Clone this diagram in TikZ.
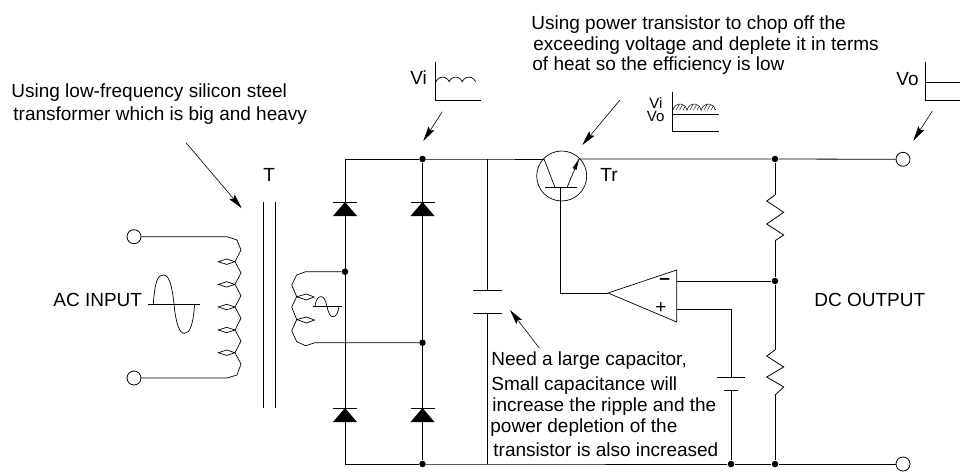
\documentclass[tikz,border=0pt]{standalone}
\usepackage{fontspec}
\setmainfont{Liberation Sans}
\usetikzlibrary{arrows.meta}

\begin{document}
\begin{tikzpicture}
		[x=1pt,y=-1pt,line width=0.8pt,
		dot/.style={circle,fill=black,inner sep=0pt,minimum size=6.5pt},
		port/.style={circle,draw=black,fill=white,inner sep=0pt,minimum size=14pt},
		label/.style={inner sep=0pt,anchor=base west,font=\fontsize{19}{21}\selectfont},
		small/.style={inner sep=0pt,anchor=base west,font=\fontsize{15}{16}\selectfont},
		thin wire/.style={line width=0.7pt},
		pointer/.style={-{Stealth[length=15pt,width=7pt,inset=2.5pt]},line width=0.6pt}]
		\useasboundingbox (0,0) rectangle (960,471);

		% ports and junctions
		\node [port] (in1) at (134,236.7) {};
		\node [port] (in2) at (134,378) {};
		\node [port] (out1) at (903,159.3) {};
		\node [port] (out2) at (903,464) {};
		\node [dot] (j1) at (422.5,159) {};
		\node [dot] (j2) at (775,159) {};
		\node [dot] (j3) at (345,271.7) {};
		\node [dot] (j4) at (422.5,342.7) {};
		\node [dot] (j5) at (775,281) {};
		\node [dot] (j6) at (422.5,464) {};
		\node [dot] (j7) at (731,464) {};
		\node [dot] (j8) at (775,464) {};
		\coordinate (tl) at (345,159);
		\coordinate (bl) at (345,464);
		\coordinate (ctop) at (487,159);
		\coordinate (cbot) at (487,464);
		\coordinate (c1) at (487,290);
		\coordinate (c2) at (487,313);
		\coordinate (q1) at (544,159);
		\coordinate (q2) at (579,159);
		\coordinate (qb) at (560,187.5);
		\coordinate (amp) at (608,293);
		\coordinate (amin) at (676.7,281);
		\coordinate (apls) at (676.7,309.5);
		\coordinate (b1) at (731,377);
		\coordinate (b2) at (731,390);
		\coordinate (r1a) at (775,195);
		\coordinate (r1b) at (775,240.7);
		\coordinate (r2a) at (775,350);
		\coordinate (r2b) at (775,395);

		% rails
		\draw (tl) -- (j1) -- (ctop) -- (q1);
		\draw (q2) -- (j2) -- (out1);
		\draw (bl) -- (j6) -- (cbot) -- (j7) -- (j8) -- (out2);
		\draw (tl) -- (bl);
		\draw (j1) -- (j6);
		\draw (ctop) -- (c1);
		\draw (c2) -- (cbot);
		\draw (j2) -- (r1a);
		\draw (r1b) -- (j5) -- (r2a);
		\draw (r2b) -- (j8);
		\draw (qb) |- (amp);
		\draw (amin) -- (j5);
		\draw (apls) -| (b1);
		\draw (b2) -- (j7);

		% capacitors
		\draw (473,290) -- (501.7,290);
		\draw (473,313) -- (501.7,313);
		\draw (717,377) -- (745,377);
		\draw (724,390) -- (738,390);

		% diodes
		\foreach \x/\y in {345/202,422.5/202,345/408,422.5/408} {
			\fill (\x,\y) -- ++(12,14) -- ++(-24,0) -- cycle;
			\draw (\x-12,\y) -- (\x+12,\y);
		}

		% resistors
		\draw (r1a) -- (766.7,201) -- (783.7,212.3) -- (766.7,224) -- (783.7,235) -- (r1b);
		\draw (r2a) -- (766.7,356) -- (783.7,367) -- (766.7,377) -- (783.7,387) -- (r2b);

		% transformer
		\draw (263,202) -- (263,408);
		\draw (275,202) -- (275,408);
		\draw [thin wire] (in1) -- (227,236.7) -- (237,240) -- (241,250) -- (235,261.7)
			-- (226.7,259) -- (218.3,261.7) -- (226.7,264.4) -- (235,261.7)
			-- (241,273) -- (235,284.4)
			-- (226.7,281.7) -- (218.3,284.4) -- (226.7,287.1) -- (235,284.4)
			-- (241,295.7) -- (235,307)
			-- (226.7,304.3) -- (218.3,307) -- (226.7,309.7) -- (235,307)
			-- (241,318.3) -- (235,330)
			-- (226.7,327.3) -- (218.3,330) -- (226.7,332.7) -- (235,330)
			-- (241,341) -- (235,352.7)
			-- (226.7,350) -- (218.3,352.7) -- (226.7,355.4) -- (235,352.7)
			-- (241,364) -- (237,375) -- (227,378) -- (in2);
		\draw [thin wire] (j3) -- (305.7,271.7) -- (296.7,275) -- (291.7,285) -- (296.7,296.7)
			-- (306.5,294) -- (314,297) -- (306.5,300) -- (296.7,296.7)
			-- (291.7,307) -- (296.7,319.5)
			-- (306.5,317) -- (314.5,320) -- (306.5,323) -- (296.7,319.5)
			-- (291.7,330.7) -- (296.7,341.7) -- (305.7,345.7) -- (315,342.7) -- (j4);

		% sine signs
		\draw [thin wire] (148.3,304.3) -- (200,304.3);
		\draw [thin wire] (153.3,304.3) .. controls (155,280) and (158,275) .. (163.5,275)
			.. controls (169,275) and (172,285) .. (174,304.3)
			.. controls (176,323) and (179,333.3) .. (184.4,333.3)
			.. controls (190,333.3) and (193,325) .. (194.7,304.3);
		\draw [thin wire] (312.7,306.7) -- (341.7,306.7);
		\draw [thin wire] (315,306.7) .. controls (316,299) and (318,296.7) .. (321,296.7)
			.. controls (324,296.7) and (325.5,300) .. (327,306.7)
			.. controls (328.5,313) and (330,316.7) .. (333,316.7)
			.. controls (336,316.7) and (338,313) .. (339,306.7);

		% transistor
		\draw [thin wire] (561.7,176) circle (25);
		\draw [thin wire] (545,187.5) -- (576.7,187.5);
		\draw [thin wire] (q1) -- (555,187.5);
		\draw [thin wire] (567,187.5) -- (q2);
		\fill (579,159) -- (576.5,170) -- (572.5,168) -- cycle;

		% op amp
		\draw [thin wire] (amp) -- (676.7,270) -- (676.7,322) -- cycle;
		\node [inner sep=0pt,font=\bfseries\fontsize{19}{21}\selectfont] (minus) at (664.7,281) {–};
		\node [inner sep=0pt,font=\fontsize{19}{21}\selectfont] (plus) at (661,307.7) {+};

		% insets
		\draw [thin wire] (435,61.7) -- (435,100) -- (481,100);
		\draw [thin wire] (436,81.7) arc (200:340:7) arc (200:340:7) arc (200:340:7);
		\draw [thin wire] (925,61.7) -- (925,100) -- (960,100);
		\draw [thin wire] (925,82.7) -- (960,82.7);
		\draw [thin wire] (672.3,92.3) -- (672.3,131) -- (718.7,131);
		\draw [thin wire] (672.3,114.3) -- (718.7,114.3);
		\draw [line width=0.5pt] (673,110) arc (190:350:7.2) arc (190:350:7.2) arc (190:350:7.2);
		\begin{scope}
			\clip (673,110) arc (190:350:7.2) arc (190:350:7.2) arc (190:350:7.2) -- cycle;
			\foreach \x in {672,675.5,...,716} {
				\draw [line width=0.4pt] (\x,111) -- (\x+5,102);
			}
		\end{scope}

		% pointers
		\coordinate (p1) at (186,142.7);
		\coordinate (p2) at (241.7,208.3);
		\coordinate (p3) at (442.3,111.7);
		\coordinate (p4) at (423.3,141);
		\coordinate (p5) at (620,100);
		\coordinate (p6) at (582.3,145);
		\coordinate (p7) at (932.3,111);
		\coordinate (p8) at (913.3,140.7);
		\coordinate (p9) at (539.3,348);
		\coordinate (p10) at (510,310);
		\draw [pointer] (p1) -- (p2);
		\draw [pointer] (p3) -- (p4);
		\draw [pointer] (p5) -- (p6);
		\draw [pointer] (p7) -- (p8);
		\draw [pointer] (p9) -- (p10);

		% texts
		\node [label] (t1) at (11,97.3) {Using low-frequency silicon steel};
		\node [label] (t2) at (13,120.7) {transformer which is big and heavy};
		\node [label] (t3) at (531,29.3) {Using power transistor to chop off the};
		\node [label] (t4) at (533,50) {exceeding voltage and deplete it in terms};
		\node [label] (t5) at (532,70) {of heat so the efficiency is low};
		\node [label] (tT) at (263,181) {T};
		\node [label] (tTr) at (600,181) {Tr};
		\node [label] (tac) at (53,306.7) {AC INPUT};
		\node [label] (tdc) at (814,306.7) {DC OUTPUT};
		\node [label] (t6) at (491,365) {Need a large capacitor,};
		\node [label] (t7) at (491,390) {Small capacitance will};
		\node [label] (t8) at (492,411.7) {increase the ripple and the};
		\node [label] (t9) at (490,432.7) {power depletion of the};
		\node [label] (t10) at (493,456.7) {transistor is also increased};
		\node [label] (tvi) at (410,84.3) {Vi};
		\node [label] (tvo) at (896,85) {Vo};
		\node [small] (tvi2) at (649,108.3) {Vi};
		\node [small] (tvo2) at (646.5,121.7) {Vo};
	\end{tikzpicture}
\end{document}
